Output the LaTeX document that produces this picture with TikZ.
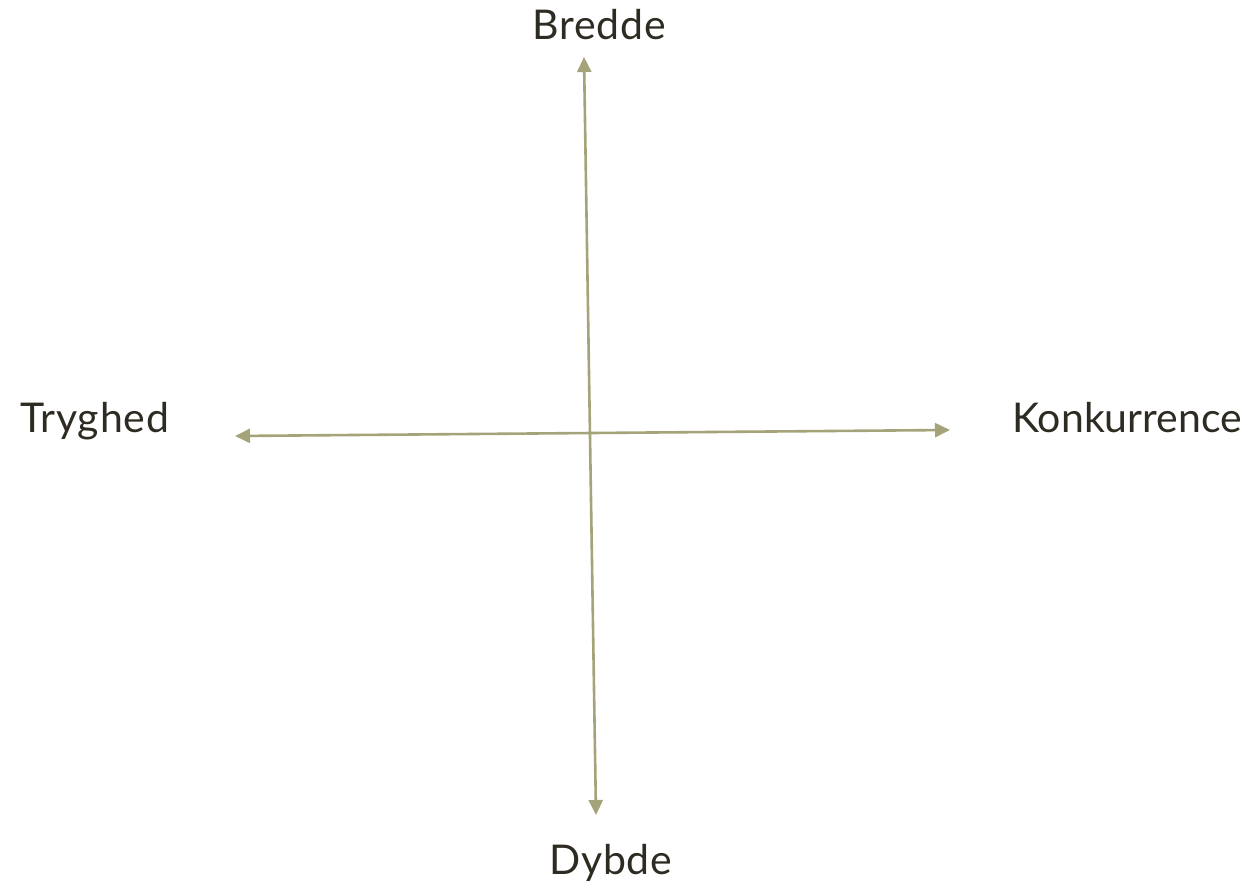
\documentclass[tikz,border=0pt]{standalone}
\usepackage{fontspec}
\setmainfont{Lato}[LetterSpace=2]
\usetikzlibrary{arrows.meta}
\definecolor{axis}{HTML}{A5A37A}
\definecolor{txt}{HTML}{2E2B22}
\tikzset{
  axisline/.style={draw=axis, line width=2.6pt, {Triangle[length=15pt,width=14pt]}-{Triangle[length=15pt,width=14pt]}},
  lbl/.style={text=txt, font=\fontsize{41}{45}\selectfont, inner sep=0pt, anchor=base west}
}
\begin{document}
\begin{tikzpicture}[x=1pt,y=-1pt]
\useasboundingbox (0,0) rectangle (1248,882);
\node[lbl] (bredde) at (532,40) {Bredde};
\node[lbl] (dybde) at (549,874) {Dybde};
\node[lbl] (tryghed) at (20,433) {Tryghed};
\node[lbl] (konk) at (1012,433) {\addfontfeatures{LetterSpace=0}Konkurrence};
\coordinate (top) at (584,57);
\coordinate (bot) at (596,815);
\coordinate (left) at (235,436);
\coordinate (right) at (950,430);
\draw[axisline] (bot) -- (top);
\draw[axisline] (left) -- (right);
\end{tikzpicture}
\end{document}
